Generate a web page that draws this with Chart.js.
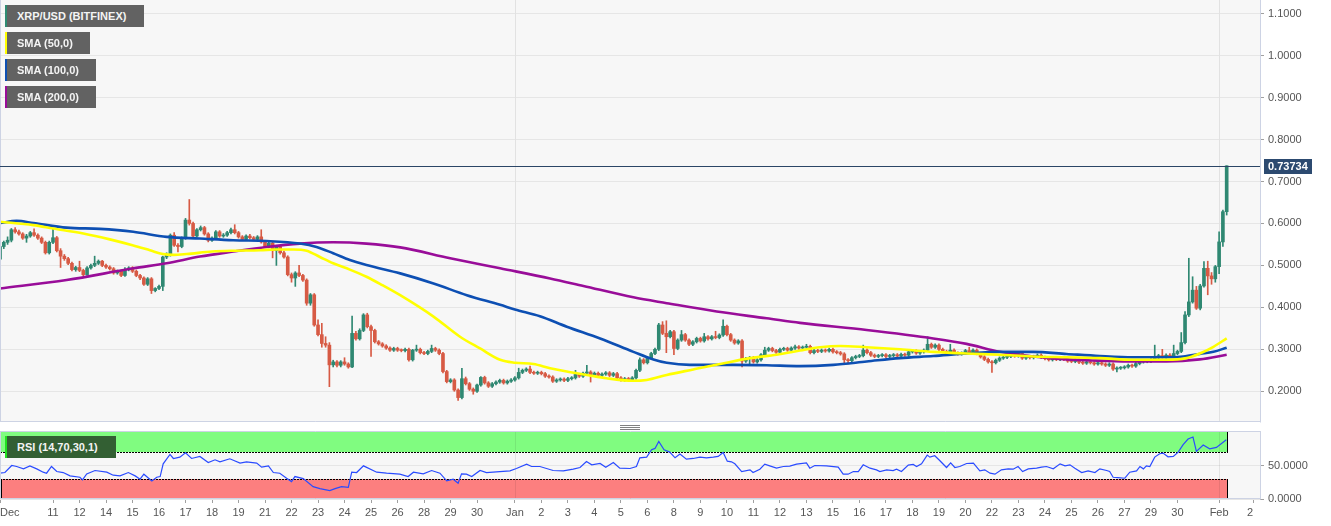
<!DOCTYPE html>
<html>
<head>
<meta charset="utf-8">
<script src="https://cdn.jsdelivr.net/npm/chart.js@4.4.1/dist/chart.umd.min.js"></script>
<style>
html,body{margin:0;padding:0;background:#fff;}
#wrap{position:relative;width:1331px;height:526px;overflow:hidden;}
canvas{position:absolute;left:0;}
#c1{top:0;}
#c2{top:420px;}
.lg{position:absolute;left:5px;height:22px;background:#626262;color:#f4f4f4;font:bold 11px 'Liberation Sans',Arial,sans-serif;line-height:22px;padding-left:10px;box-sizing:border-box;border-left:2px solid;white-space:nowrap;}
.hd{position:absolute;left:620px;width:20px;height:1px;background:#808080;}
</style>
</head>
<body>
<div id="wrap">
<canvas id="c1" width="1331" height="423"></canvas>
<canvas id="c2" width="1331" height="106"></canvas>
<div class="lg" style="top:5px;width:139px;border-color:#2e8b72">XRP/USD (BITFINEX)</div>
<div class="lg" style="top:32px;width:85px;border-color:#ffff00">SMA (50,0)</div>
<div class="lg" style="top:59px;width:91px;border-color:#0d4fb3">SMA (100,0)</div>
<div class="lg" style="top:86px;width:91px;border-color:#990d99">SMA (200,0)</div>
<div class="lg" style="top:436px;width:111px;border-color:#22e022;background:#335f33">RSI (14,70,30,1)</div>
<div class="hd" style="top:425px"></div>
<div class="hd" style="top:427px"></div>
<div class="hd" style="top:429px"></div>
</div>
<script>
// ---- 4h candles (bar index 0 .. 324) ----
const opens = [
.515,.545,.555,.560,.585,.580,.575,.565,.570,.578,
.572,.565,.555,.530,.555,.566,.535,.522,.516,.505,
.490,.495,.488,.478,.494,.500,.505,.510,.500,.496,
.492,.482,.486,.476,.490,.494,.486,.476,.470,.455,
.468,.440,.445,.450,.520,.525,.572,.548,.545,.565,
.608,.600,.570,.585,.590,.575,.560,.565,.580,.570,
.572,.578,.585,.578,.568,.562,.570,.566,.562,.568,
.556,.545,.553,.535,.545,.530,.520,.478,.470,.482,
.476,.465,.410,.430,.358,.335,.314,.310,.263,.270,
.262,.270,.265,.258,.338,.325,.345,.382,.354,.345,
.318,.313,.308,.303,.298,.302,.298,.297,.300,.275,
.298,.300,.292,.290,.295,.302,.298,.290,.247,.223,
.227,.203,.185,.230,.218,.205,.200,.215,.233,.220,
.212,.218,.222,.226,.220,.224,.227,.232,.245,.250,
.253,.245,.243,.245,.242,.236,.234,.224,.227,.229,
.226,.230,.232,.240,.236,.243,.246,.238,.243,.238,
.241,.244,.238,.242,.232,.227,.230,.228,.232,.250,
.275,.268,.280,.290,.300,.358,.338,.330,.342,.302,
.322,.335,.322,.312,.318,.326,.320,.330,.325,.330,
.328,.334,.355,.335,.322,.315,.320,.272,.278,.280,
.270,.275,.287,.298,.302,.297,.293,.300,.302,.298,
.303,.306,.303,.305,.307,.292,.297,.295,.298,.296,
.300,.294,.292,.289,.275,.273,.280,.283,.285,.298,
.292,.286,.283,.285,.287,.283,.285,.287,.284,.288,
.286,.294,.296,.291,.294,.298,.312,.305,.310,.300,
.295,.290,.298,.291,.289,.291,.297,.293,.298,.290,
.282,.276,.270,.268,.274,.279,.281,.283,.285,.284,
.290,.279,.281,.280,.283,.286,.281,.278,.275,.279,
.276,.278,.276,.272,.271,.274,.269,.267,.270,.268,
.265,.268,.265,.262,.265,.253,.255,.256,.258,.262,
.260,.266,.270,.271,.273,.275,.280,.285,.282,.286,
.283,.290,.295,.316,.382,.413,.441,.398,.451,.493,
.475,.468,.497,.556,.628];
const highs = [
.552,.558,.568,.588,.590,.584,.578,.574,.581,.587,
.575,.568,.558,.558,.588,.569,.540,.526,.519,.508,
.498,.510,.491,.497,.503,.522,.513,.512,.503,.499,
.495,.489,.489,.495,.497,.497,.489,.479,.473,.471,
.471,.447,.453,.522,.530,.575,.578,.552,.568,.612,
.657,.603,.588,.594,.593,.578,.568,.583,.583,.576,
.581,.589,.597,.581,.571,.573,.574,.569,.571,.585,
.559,.556,.556,.548,.548,.534,.523,.482,.485,.500,
.479,.468,.433,.433,.370,.362,.330,.316,.274,.273,
.273,.280,.268,.379,.343,.349,.385,.386,.358,.348,
.321,.316,.311,.306,.305,.305,.301,.303,.303,.300,
.310,.303,.295,.298,.310,.305,.301,.293,.250,.230,
.230,.206,.255,.234,.221,.208,.217,.235,.236,.223,
.221,.225,.229,.229,.227,.230,.235,.255,.253,.256,
.260,.248,.248,.248,.245,.239,.237,.230,.232,.232,
.233,.235,.250,.243,.246,.262,.249,.246,.246,.244,
.247,.247,.245,.245,.235,.233,.233,.235,.253,.280,
.278,.283,.293,.303,.362,.366,.368,.345,.345,.325,
.345,.338,.325,.321,.329,.329,.338,.333,.333,.343,
.337,.370,.358,.338,.325,.323,.323,.281,.283,.283,
.278,.290,.305,.305,.305,.300,.303,.305,.305,.306,
.310,.309,.308,.312,.310,.300,.300,.301,.301,.303,
.303,.297,.295,.292,.278,.283,.286,.288,.310,.301,
.295,.289,.288,.290,.290,.288,.290,.290,.291,.291,
.297,.299,.299,.297,.301,.330,.315,.313,.313,.303,
.298,.312,.301,.294,.294,.300,.305,.301,.301,.293,
.285,.279,.273,.277,.282,.284,.286,.288,.288,.293,
.293,.284,.284,.286,.289,.289,.284,.281,.282,.282,
.281,.281,.279,.275,.277,.277,.272,.273,.273,.271,
.271,.271,.268,.268,.268,.258,.259,.261,.265,.265,
.269,.273,.274,.276,.278,.310,.288,.300,.289,.290,
.310,.298,.340,.390,.517,.473,.450,.455,.509,.510,
.483,.500,.580,.632,.73734];
const lows = [
.500,.540,.550,.556,.577,.572,.562,.555,.567,.569,
.562,.552,.527,.527,.552,.532,.495,.512,.502,.487,
.486,.485,.475,.476,.491,.497,.502,.497,.493,.489,
.479,.479,.473,.474,.487,.483,.473,.466,.452,.452,
.433,.437,.442,.440,.516,.522,.545,.532,.542,.562,
.596,.566,.567,.582,.572,.556,.557,.562,.567,.567,
.569,.575,.575,.565,.559,.559,.563,.559,.559,.553,
.542,.542,.518,.500,.527,.517,.475,.460,.450,.473,
.462,.405,.405,.355,.332,.305,.305,.211,.258,.258,
.258,.262,.255,.256,.322,.322,.342,.351,.283,.315,
.310,.305,.300,.295,.295,.295,.294,.294,.272,.272,
.295,.289,.287,.287,.292,.295,.287,.244,.220,.220,
.200,.178,.182,.215,.202,.193,.197,.212,.217,.209,
.209,.215,.219,.217,.217,.221,.224,.229,.242,.247,
.242,.240,.240,.239,.233,.231,.221,.221,.224,.223,
.223,.227,.229,.233,.233,.240,.222,.235,.235,.235,
.238,.235,.235,.225,.224,.224,.225,.225,.229,.247,
.265,.265,.277,.287,.297,.335,.292,.327,.287,.299,
.319,.319,.309,.309,.315,.317,.317,.322,.322,.325,
.325,.331,.332,.319,.312,.312,.258,.269,.265,.267,
.267,.272,.284,.295,.294,.290,.290,.297,.295,.295,
.300,.300,.300,.302,.289,.289,.292,.292,.293,.293,
.291,.289,.286,.268,.265,.270,.277,.280,.282,.289,
.283,.280,.280,.282,.280,.280,.282,.281,.281,.283,
.283,.291,.288,.288,.291,.295,.302,.302,.297,.292,
.287,.287,.288,.286,.286,.288,.290,.290,.287,.279,
.273,.267,.245,.265,.271,.276,.278,.280,.281,.281,
.276,.276,.277,.277,.280,.278,.275,.272,.272,.273,
.273,.273,.269,.268,.268,.266,.264,.264,.265,.262,
.262,.262,.259,.259,.250,.246,.252,.253,.255,.257,
.257,.263,.267,.268,.268,.272,.277,.279,.279,.280,
.280,.287,.292,.313,.378,.410,.395,.394,.448,.430,
.455,.460,.480,.545,.620];
const closes = [
.545,.555,.560,.585,.580,.575,.565,.570,.578,.572,
.565,.555,.530,.555,.566,.535,.522,.516,.505,.490,
.495,.488,.478,.494,.500,.505,.510,.500,.496,.492,
.482,.486,.476,.490,.494,.486,.476,.470,.455,.468,
.440,.445,.450,.520,.525,.572,.548,.545,.565,.608,
.600,.570,.585,.590,.575,.560,.565,.580,.570,.572,
.578,.585,.578,.568,.562,.570,.566,.562,.568,.556,
.545,.553,.535,.545,.530,.520,.478,.470,.482,.476,
.465,.410,.430,.358,.335,.314,.310,.263,.270,.262,
.270,.265,.258,.338,.325,.345,.382,.354,.345,.318,
.313,.308,.303,.298,.302,.298,.297,.300,.275,.298,
.300,.292,.290,.295,.302,.298,.290,.247,.223,.227,
.203,.185,.230,.218,.205,.200,.215,.233,.220,.212,
.218,.222,.226,.220,.224,.227,.232,.245,.250,.253,
.245,.243,.245,.242,.236,.234,.224,.227,.229,.226,
.230,.232,.240,.236,.243,.246,.238,.243,.238,.241,
.244,.238,.242,.232,.227,.230,.228,.232,.250,.275,
.268,.280,.290,.300,.358,.338,.330,.342,.302,.322,
.335,.322,.312,.318,.326,.320,.330,.325,.330,.328,
.334,.355,.335,.322,.315,.320,.272,.278,.280,.270,
.275,.287,.298,.302,.297,.293,.300,.302,.298,.303,
.306,.303,.305,.307,.292,.297,.295,.298,.296,.300,
.294,.292,.289,.275,.273,.280,.283,.285,.298,.292,
.286,.283,.285,.287,.283,.285,.287,.284,.288,.286,
.294,.296,.291,.294,.298,.312,.305,.310,.300,.295,
.290,.298,.291,.289,.291,.297,.293,.298,.290,.282,
.276,.270,.268,.274,.279,.281,.283,.285,.284,.290,
.279,.281,.280,.283,.286,.281,.278,.275,.279,.276,
.278,.276,.272,.271,.274,.269,.267,.270,.268,.265,
.268,.265,.262,.265,.253,.255,.256,.258,.262,.260,
.266,.270,.271,.273,.275,.280,.285,.282,.286,.283,
.290,.295,.316,.382,.413,.441,.398,.451,.493,.475,
.468,.497,.556,.628,.73734];

// ---- moving averages read at sample bar positions ----
const sma50Idx = [0,8.8,14,22,29,35,39.6,43,45.8,49.3,56,61.6,68.7,73,77.5,81,84.5,88,92.4,96.8,101,105.7,114.5,121.5,126.8,132.1,136,140.9,145.3,149.7,155,160.2,167.3,170.8,176.1,183.1,190.2,198.1,205.1,211.3,216.6,221.9,228.9,237.7,246.5,255.3,264.1,272.9,281.7,290.5,299.3,308.1,313.4,316.9,320.5,324];
const sma50Val = [.604,.596,.588,.576,.562,.548,.536,.527,.525,.527,.533,.535,.536,.538,.538,.535,.52,.505,.49,.473,.453,.429,.378,.33,.302,.275,.268,.265,.255,.247,.239,.231,.225,.227,.239,.252,.265,.279,.287,.297,.305,.308,.305,.3,.294,.29,.287,.283,.281,.279,.275,.275,.279,.29,.306,.326];
const sma100Idx = [0,4.4,8.8,17.6,26.4,35.2,44,52.8,61.6,70.4,79.2,83.6,88,92.4,96.8,105.7,114.5,123.3,132.1,136,142.6,149.7,158.5,167.3,172.6,176.1,182.2,189.3,193.7,202.5,211.3,220.1,228.9,237.7,246.5,255.3,264.1,272.9,281.7,290.5,299.3,308.1,312.5,316.9,320.5,324];
const sma100Val = [.601,.606,.601,.59,.587,.58,.568,.564,.56,.558,.552,.544,.529,.513,.501,.481,.457,.429,.406,.395,.379,.354,.326,.294,.276,.268,.263,.263,.263,.262,.26,.263,.271,.279,.284,.29,.294,.294,.289,.284,.281,.281,.283,.289,.294,.304];
const sma200Idx = [0,17.6,35.2,44,52.8,61.6,70.4,79.2,88,96.8,105.7,118.9,132.1,145.3,154.1,167.3,176.1,189.3,202.5,211.3,228.9,246.5,255.3,264.1,272.9,281.7,290.5,299.3,308.1,316.9,324];
const sma200Val = [.445,.465,.493,.505,.521,.533,.544,.552,.555,.552,.543,.517,.493,.469,.451,.424,.41,.39,.374,.363,.346,.326,.313,.294,.283,.276,.273,.271,.271,.276,.287];

// ---- RSI (14) read at sample bar positions ----
const rsiIdx = [0,1.3,3.1,4.4,6.2,7.9,9.7,11.4,12.3,13.6,15,16.7,18.5,21.1,21.8,22.9,25.1,28.2,29.9,31.7,33.9,35.7,37,38,40.1,41.4,42.3,43.1,44.9,45.8,47.5,49,50.6,52.8,55,56.8,58.1,60.7,63.4,65.1,67.8,69.1,70.9,72.2,73.9,75.7,77,77.9,80.1,82.7,84.5,87.1,88.5,90.2,92,92.9,94.2,96,99.5,102.1,105.6,107.8,109.2,111.8,114,116.2,118,119.7,121,121.9,123.2,124.6,126.8,128.5,132,134.7,136.4,139.1,140.4,142.6,146.1,148.8,151.4,153.2,154.9,156.3,158.5,160,162,163.7,166.4,168.1,169,170.8,172.1,173,174,175.4,176.9,178.3,179.6,181.3,183.1,184.9,186.6,188.4,189.7,191,192.1,193.2,194.1,195.9,198.1,198.9,200.7,202,203.3,205.1,206.9,208.6,210.4,213,213.9,215.2,218.3,221.4,222.7,224,225.4,226.7,228,229.8,231.5,232.4,234.2,235.9,236.8,238.1,239.9,241.2,242.1,243.4,244.9,245.6,246.9,248.2,250,251.1,252.2,253.5,255.3,257.1,258.8,260.1,261.5,262.8,264.5,266.3,267.6,268.9,270.1,271.6,273.8,275.1,276.4,278.2,280,281.3,282.6,283.9,285.7,287.4,289.2,290.5,292.3,293.1,294,295.3,297.1,298.4,300.2,301.1,302,302.8,303.7,305,306.3,307.2,308.5,309.9,311.2,312.5,313.8,315.1,316,317.8,319.5,321.3,323.9];
const rsiVal = [38.5,39.5,50,48.5,45,49.5,45,40,38.5,48.5,41,39.5,34.5,32.5,28.5,37.5,42.5,40,35.5,34.5,39.5,34.5,29.5,37,27,32.5,33.5,52.5,66.5,60.5,62.5,69,60.5,63.5,54.5,58.5,55.5,60,53.5,55.5,53.5,47.5,49.5,39.5,38.5,31,26,33.5,30.5,18.5,15.5,12.5,15.5,18.5,17.5,40,39.5,49.5,40,38.5,37,33.5,40,37.5,42.5,38.5,27,29.5,23.5,37.5,37,33.5,42.5,39.5,41,42,45.5,52,48.5,48.5,42.5,42,44.5,47,56,51,53,47.5,54.5,46,45.5,48.5,61.5,62.5,73.5,75.5,86,73.5,70,61.5,67,59.5,60.5,62.5,61.5,62.5,63.5,69.5,56.5,55.5,52.5,41,43.5,39.5,44.5,52,49.5,46,48.5,49,52,54,46,50,49.5,47.5,37,37,41,41,51,46,43.5,41,43.5,42.5,44.5,41,50.5,51.5,48.5,52.5,65.5,62.5,64.5,57.5,47,54,47,48.5,53,53.5,42,43.5,38.5,37,43.5,45,44.5,48.5,41,45,46,47.5,48.5,45,52.5,49.5,51,46,39.5,42,39.5,45,42.5,41,32.5,32,31,40,42,48.5,45,49.5,48.5,62.5,67.5,68.5,63,63.5,70,81,89.5,92.5,71,80.5,75,77,88.5];
const rsiUpper = 70, rsiLower = 30;

// ---- axis ticks ----
const priceTicks = [0.2,0.3,0.4,0.5,0.6,0.7,0.8,0.9,1.0,1.1];
const rsiTicks = [0,50];
const tickIdx = [0,14,21,28,35,42,49,56,63,70,77,84,91,98,105,112,119,126,136,143,150,157,164,171,178,185,192,199,206,213,220,227,234,241,248,255,262,269,276,283,290,297,304,311,322,331];
const tickLabels = ['Dec','11','12','14','15','16','17','18','19','21','22','23','24','25','26','28','29','30','Jan','2','3','4','5','6','8','9','10','11','12','13','15','16','17','18','19','20','22','23','24','25','26','27','29','30','Feb','2'];

// ---- rendering ----
Chart.defaults.font.family = "'Liberation Sans', Arial, sans-serif";
Chart.defaults.font.size = 11;
Chart.defaults.color = '#555';

const GREEN = '#2f8872', RED = '#d75a44';
const lastIdx = closes.length - 1;
const X_MIN = 0, X_MAX = 332.8;
const monthIdx = tickIdx.filter((v, k) => isNaN(Number(tickLabels[k])));
const candleColor = ctx => (closes[ctx.dataIndex] >= opens[ctx.dataIndex] ? GREEN : RED);

function zeroPad(s) { s.paddingLeft = 0; s.paddingRight = 0; s.paddingTop = 0; s.paddingBottom = 0; }

const bgPlugin = {
  id: 'panelBg',
  beforeDraw(chart) {
    const {ctx, chartArea: a} = chart;
    ctx.save();
    ctx.fillStyle = '#f7f7f7';
    ctx.fillRect(a.left, a.top, a.right - a.left, a.bottom - a.top);
    ctx.restore();
  }
};

function monthLines(chart, color) {
  const {ctx, chartArea: a, scales: {x}} = chart;
  ctx.save();
  ctx.strokeStyle = color; ctx.lineWidth = 1;
  monthIdx.forEach(v => {
    const px = Math.round(x.getPixelForValue(v)) + 0.5;
    if (px <= a.left + 1) return;
    ctx.beginPath(); ctx.moveTo(px, a.top); ctx.lineTo(px, a.bottom); ctx.stroke();
  });
  ctx.restore();
}

function border(chart, top) {
  const {ctx, chartArea: a} = chart;
  ctx.save();
  ctx.strokeStyle = '#cdd3e4'; ctx.lineWidth = 1;
  ctx.beginPath();
  ctx.moveTo(a.left + 0.5, a.top); ctx.lineTo(a.left + 0.5, a.bottom);
  ctx.moveTo(a.right + 0.5, a.top - (top ? 1 : 0)); ctx.lineTo(a.right + 0.5, a.bottom + 0.5);
  ctx.moveTo(a.left, a.bottom - 0.5); ctx.lineTo(a.right + 1, a.bottom - 0.5);
  if (top) { ctx.moveTo(a.left, a.top - 0.5); ctx.lineTo(a.right + 1, a.top - 0.5); }
  ctx.stroke();
  ctx.restore();
}

const mainOverlay = {
  id: 'mainOverlay',
  beforeDatasetsDraw(chart) { monthLines(chart, '#e2e2e2'); },
  afterDraw(chart) {
    border(chart, false);
    const {ctx, chartArea: a, scales: {y}} = chart;
    const v = closes[lastIdx];
    const py = Math.round(y.getPixelForValue(v)) + 0.5;
    ctx.save();
    ctx.strokeStyle = '#2b4666'; ctx.lineWidth = 1;
    ctx.beginPath(); ctx.moveTo(a.left, py); ctx.lineTo(a.right, py); ctx.stroke();
    ctx.fillStyle = '#2c4a70';
    ctx.fillRect(a.right + 4, py - 7.5, 48, 15);
    ctx.fillStyle = '#ffffff';
    ctx.font = "bold 11px 'Liberation Sans', Arial, sans-serif";
    ctx.textBaseline = 'middle'; ctx.textAlign = 'left';
    ctx.fillText(v.toFixed(5), a.right + 8, py + 0.5);
    ctx.restore();
  }
};

const rsiOverlay = {
  id: 'rsiOverlay',
  beforeDatasetsDraw(chart) {
    const {ctx, scales: {x, y}} = chart;
    const x0 = x.getPixelForValue(0), x1 = Math.round(x.getPixelForValue(lastIdx));
    const y100 = y.getPixelForValue(100), yU = Math.round(y.getPixelForValue(rsiUpper)),
          yL = Math.round(y.getPixelForValue(rsiLower)), y0 = y.getPixelForValue(0);
    ctx.save();
    ctx.fillStyle = '#80fc80'; ctx.fillRect(x0, y100, x1 - x0, yU - y100);
    ctx.fillStyle = '#fc7f7f'; ctx.fillRect(x0, yL, x1 - x0, y0 - yL);
    ctx.strokeStyle = '#000'; ctx.lineWidth = 1;
    ctx.setLineDash([2, 1]);
    ctx.beginPath();
    ctx.moveTo(x0, yU + 0.5); ctx.lineTo(x1, yU + 0.5);
    ctx.moveTo(x0, yL + 0.5); ctx.lineTo(x1, yL + 0.5);
    ctx.stroke();
    ctx.setLineDash([]);
    ctx.beginPath();
    ctx.moveTo(x1 + 0.5, y100); ctx.lineTo(x1 + 0.5, yU + 1);
    ctx.moveTo(x1 + 0.5, yL); ctx.lineTo(x1 + 0.5, y0);
    ctx.moveTo(x0 + 1.5, yL); ctx.lineTo(x0 + 1.5, y0);
    ctx.stroke();
    ctx.restore();
    monthLines(chart, 'rgba(0,0,0,0.08)');
  },
  afterDraw(chart) { border(chart, true); }
};

function smaLine(idxArr, valArr, color) {
  return {
    type: 'line',
    data: idxArr.map((x, k) => ({x, y: valArr[k]})),
    borderColor: color, borderWidth: 2.6, pointRadius: 0,
    cubicInterpolationMode: 'monotone', fill: false, order: 0
  };
}

new Chart(document.getElementById('c1'), {
  type: 'bar',
  data: {
    datasets: [
      smaLine(sma50Idx, sma50Val, '#ffff00'),
      smaLine(sma100Idx, sma100Val, '#0d4fb3'),
      smaLine(sma200Idx, sma200Val, '#990d99'),
      { type: 'bar', data: closes.map((c, i) => ({x: i, y: [opens[i], c]})),
        backgroundColor: candleColor, barThickness: 3, minBarLength: 1, grouped: false, borderWidth: 0, order: 1 },
      { type: 'bar', data: closes.map((c, i) => ({x: i, y: [lows[i], highs[i]]})),
        backgroundColor: candleColor, barThickness: 1, grouped: false, borderWidth: 0, order: 2 }
    ]
  },
  options: {
    responsive: false, animation: false, devicePixelRatio: 1,
    layout: {padding: {left: 0, right: 0, top: 0, bottom: 1}},
    plugins: {legend: {display: false}, tooltip: {enabled: false}},
    scales: {
      x: {type: 'linear', min: X_MIN, max: X_MAX, display: false, offset: false, grid: {offset: false}},
      y: {type: 'linear', position: 'right', min: 0.1268, max: 1.1325, bounds: 'data', beginAtZero: false,
          afterBuildTicks: s => { s.ticks = priceTicks.map(v => ({value: v})); },
          afterFit: s => { s.width = 71; zeroPad(s); },
          ticks: {callback: v => Number(v).toFixed(4), padding: 4, color: '#555'},
          grid: {color: '#e6e6e6', tickColor: '#a0a0a0', tickLength: 4},
          border: {display: false}}
    }
  },
  plugins: [bgPlugin, mainOverlay]
});

new Chart(document.getElementById('c2'), {
  type: 'line',
  data: {
    datasets: [{
      data: rsiIdx.map((x, k) => ({x, y: rsiVal[k]})),
      borderColor: '#2a4bff', borderWidth: 1.2, pointRadius: 0, tension: 0, fill: false
    }]
  },
  options: {
    responsive: false, animation: false, devicePixelRatio: 1,
    layout: {padding: {left: 0, right: 0, top: 12, bottom: 0}},
    plugins: {legend: {display: false}, tooltip: {enabled: false}},
    scales: {
      x: {type: 'linear', min: X_MIN, max: X_MAX, position: 'bottom', offset: false,
          afterBuildTicks: s => { s.ticks = tickIdx.map(v => ({value: v})); },
          afterFit: s => { s.height = 27; zeroPad(s); },
          ticks: {autoSkip: false, maxRotation: 0, minRotation: 0, align: 'inner', padding: 3, color: '#555',
                  callback: (v, k) => tickLabels[k]},
          grid: {drawOnChartArea: false, drawTicks: true, tickLength: 4, tickColor: '#a0a0a0', offset: false},
          border: {display: false}},
      y: {type: 'linear', position: 'right', min: 0, max: 100, bounds: 'data',
          afterBuildTicks: s => { s.ticks = rsiTicks.map(v => ({value: v})); },
          afterFit: s => { s.width = 71; zeroPad(s); },
          ticks: {callback: v => Number(v).toFixed(4), padding: 4, color: '#555'},
          grid: {color: '#e6e6e6', tickColor: '#a0a0a0', tickLength: 4},
          border: {display: false}}
    }
  },
  plugins: [bgPlugin, rsiOverlay]
});
</script>
</body>
</html>
